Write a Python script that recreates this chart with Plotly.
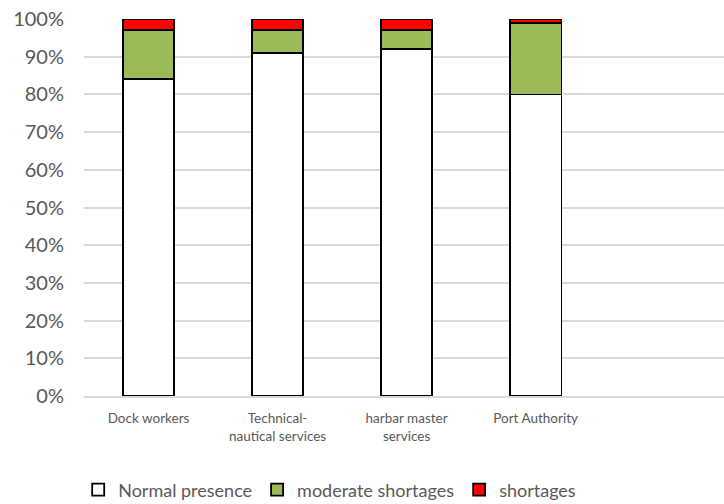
import plotly.graph_objects as go

categories = ["Dock workers", "Technical-<br>nautical services", "harbar master<br>services", "Port Authority"]
normal_presence = [84, 91, 92, 80]
moderate_shortages = [13, 6, 5, 19]
shortages = [3, 3, 3, 1]
y_ticks = [0, 10, 20, 30, 40, 50, 60, 70, 80, 90, 100]
y_tick_labels = [f"{v}%" for v in y_ticks]

FONT = "Lato"
GRAY = "#595959"

fig = go.Figure()
series = [
    ("Normal presence", normal_presence, "#FFFFFF"),
    ("moderate shortages", moderate_shortages, "#9BBB59"),
    ("shortages", shortages, "#FF0000"),
]
for name, vals, color in series:
    fig.add_trace(go.Bar(
        x=categories, y=vals, name=name, width=0.4,
        marker=dict(color=color, line=dict(color="#000000", width=1.8)),
    ))

fig.update_layout(
    barmode="stack",
    width=724, height=504,
    margin=dict(l=84, r=0, t=19, b=108, autoexpand=False),
    plot_bgcolor="white", paper_bgcolor="white",
    font=dict(family=FONT, color=GRAY),
    showlegend=True,
    legend=dict(orientation="h", xref="container", yref="container",
                x=0.108, xanchor="left", y=0.028, yanchor="middle",
                font=dict(size=18, color=GRAY, family=FONT), traceorder="normal",
                itemwidth=30),
    xaxis=dict(type="category", range=[-0.5, 4.46], showgrid=False,
               showline=True, linecolor="#D9D9D9", linewidth=1.5,
               ticks="", ticklabelstandoff=9,
               tickfont=dict(size=13.5, color=GRAY, family=FONT)),
    yaxis=dict(range=[0, 100], tickmode="array", tickvals=y_ticks, ticktext=y_tick_labels,
               showgrid=True, gridcolor="#D9D9D9", gridwidth=1.5,
               zeroline=False, showline=False, ticks="", ticklabelstandoff=19,
               ticklabeloverflow="allow",
               tickfont=dict(size=20, color=GRAY, family=FONT)),
)

fig.write_html("out.html", config={"displayModeBar": False},
               post_script="document.body.style.margin='0';")
